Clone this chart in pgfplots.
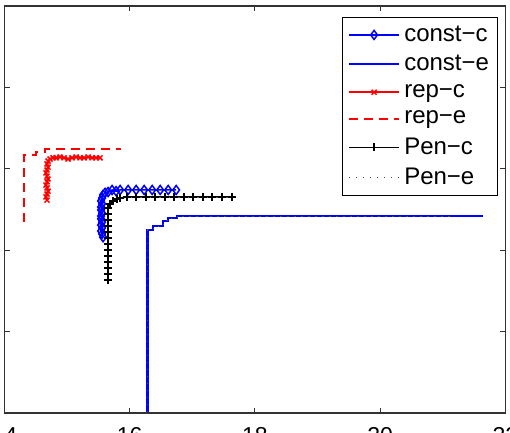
\documentclass[border=0pt]{standalone}
\usepackage{pgfplots}
\pgfplotsset{compat=1.18}
\usepackage{fontspec}
\setmainfont{Liberation Sans}
\begin{document}
\fontsize{22}{26}\selectfont
\begin{tikzpicture}
\begin{axis}[
  scale only axis,
  width=501pt, height=407pt,
  xmin=14, xmax=22, ymin=0, ymax=1,
  xtick={14,16,18,20,22},
  ytick={0,0.2,0.4,0.6,0.8,1},
  yticklabels={},
  tick align=inside,
  major tick length=5pt,
  axis line style={line width=1.2pt, black!80},
  every tick/.style={black!80, line width=1pt},
  tick label style={font=\fontsize{23}{26}\selectfont},
  xticklabel style={yshift=-7pt},
  /pgf/number format/assume math mode=true,
  legend cell align=left,
  legend style={at={(1,1)}, anchor=north east, xshift=-7pt, yshift=-11pt,
    draw=black, line width=1pt, font=\fontsize{24}{26}\selectfont,
    row sep=6.5pt, inner xsep=5pt, inner ysep=6pt,
    nodes={inner xsep=4pt}},
  every axis plot post/.append style={legend image code/.code={\draw[mark repeat=2,mark phase=2,##1] plot coordinates {(0pt,0pt)(25pt,0pt)(50pt,0pt)};}},
]
% const-c
\addplot[blue, line width=1.5pt, mark=diamond, mark size=4.5pt, mark options={solid, line width=1.5pt}] coordinates {
(15.574,0.432)(15.558,0.440)(15.542,0.447)(15.558,0.455)(15.542,0.462)(15.558,0.469)
(15.542,0.477)(15.542,0.484)(15.558,0.491)(15.542,0.499)(15.542,0.506)(15.558,0.514)
(15.542,0.521)(15.558,0.528)(15.574,0.536)(15.606,0.541)(15.654,0.543)(15.718,0.548)
(15.782,0.545)(15.846,0.548)(15.974,0.548)(16.102,0.548)(16.230,0.548)(16.358,0.548)
(16.486,0.548)(16.614,0.548)(16.741,0.548)};
\addlegendentry{const\textminus c}
% const-e
\addplot[blue, line width=2.4pt] coordinates {
(16.286,0.002)(16.286,0.450)(16.374,0.450)(16.374,0.459)(16.534,0.459)(16.534,0.472)
(16.614,0.472)(16.614,0.479)(16.757,0.479)(16.757,0.484)(21.648,0.484)};
\addlegendentry{const\textminus e}
% rep-c
\addplot[red, line width=1.5pt, mark=x, mark size=3.5pt, mark options={solid, line width=1.5pt}] coordinates {
(14.679,0.523)(14.663,0.531)(14.679,0.538)(14.695,0.545)(14.679,0.553)(14.663,0.560)
(14.679,0.568)(14.695,0.575)(14.679,0.582)(14.663,0.590)(14.679,0.597)(14.695,0.604)
(14.679,0.612)(14.695,0.619)(14.727,0.624)(14.775,0.627)(14.823,0.627)(14.887,0.629)
(14.951,0.627)(15.015,0.624)(15.079,0.627)(15.143,0.629)(15.207,0.627)(15.271,0.627)
(15.335,0.629)(15.399,0.627)(15.463,0.627)(15.526,0.627)};
\addlegendentry{rep\textminus c}
% rep-e
\addplot[color=red, line width=1.8pt, dash pattern=on 9pt off 6pt] coordinates {
(14.312,0.469)(14.312,0.634)(14.503,0.634)(14.503,0.641)(14.647,0.641)(14.647,0.649)(15.862,0.649)};
\addlegendentry{rep\textminus e}
% Pen-c
\addplot[black, line width=1.5pt, mark=+, mark size=4pt, mark options={solid, line width=1.8pt}] coordinates {
(15.654,0.327)(15.654,0.342)(15.654,0.356)(15.654,0.371)(15.654,0.386)(15.654,0.400)
(15.654,0.415)(15.654,0.430)(15.654,0.445)(15.654,0.459)(15.654,0.474)(15.654,0.489)
(15.654,0.504)(15.686,0.514)(15.734,0.521)(15.798,0.526)(15.846,0.528)(15.958,0.531)
(16.102,0.531)(16.262,0.531)(16.406,0.531)(16.566,0.531)(16.709,0.531)(16.869,0.531)
(17.013,0.531)(17.173,0.531)(17.317,0.531)(17.477,0.531)(17.636,0.531)};
\addlegendentry{Pen\textminus c}
% Pen-e
\addplot[black!70, line width=1pt, dash pattern=on 1.2pt off 5.8pt] coordinates {
(16.286,0.002)(16.286,0.450)(16.374,0.450)(16.374,0.459)(16.534,0.459)(16.534,0.472)
(16.614,0.472)(16.614,0.479)(16.757,0.479)(16.757,0.484)(21.169,0.484)};
\addlegendentry{Pen\textminus e}
\end{axis}
\pgfresetboundingbox
\useasboundingbox (-4.5pt,-19pt) rectangle (505.5pt,413pt);
\end{tikzpicture}
\end{document}
